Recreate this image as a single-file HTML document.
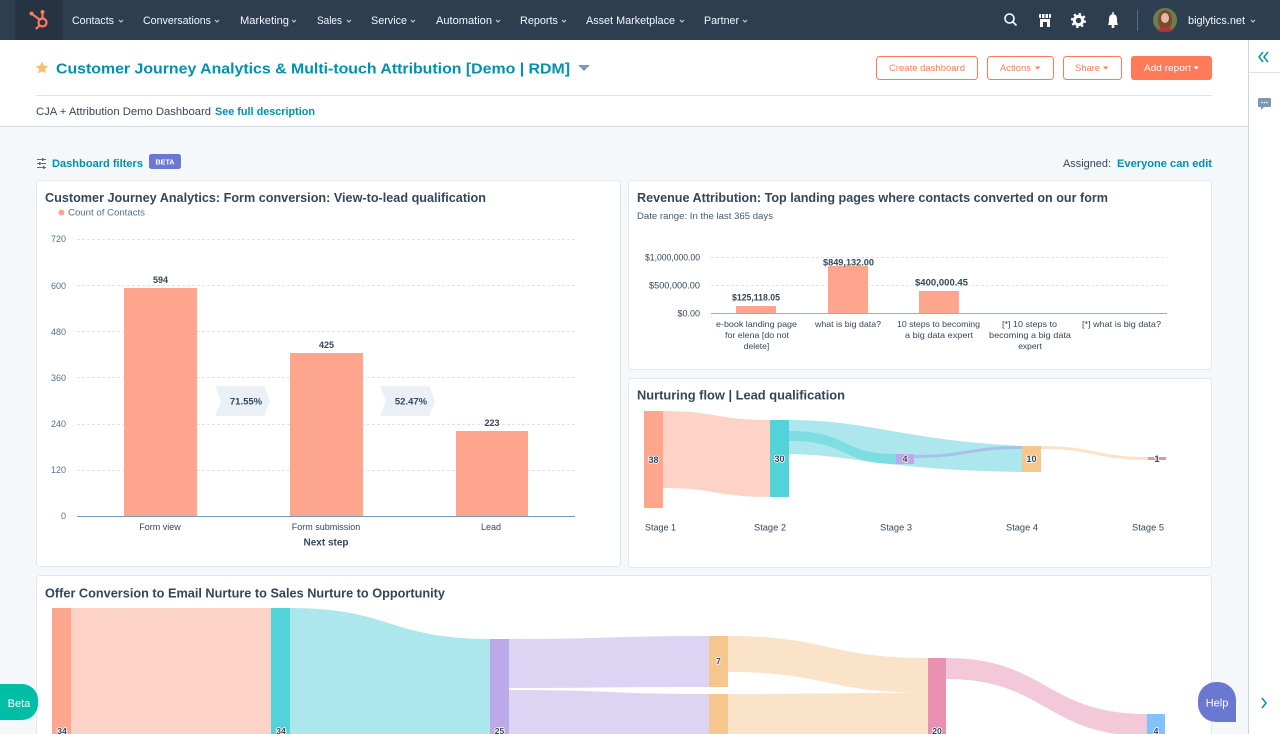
<!DOCTYPE html>
<html><head><meta charset="utf-8"><style>
html,body{margin:0;padding:0;background:#F5F8FA;}
svg{display:block;font-family:"Liberation Sans",sans-serif;}
</style></head><body>
<svg width="1280" height="734" viewBox="0 0 1280 734" xmlns="http://www.w3.org/2000/svg">
<!-- background -->
<rect x="0" y="0" width="1280" height="734" fill="#F5F8FA"/>
<!-- header white -->
<rect x="0" y="40" width="1248" height="86" fill="#FFFFFF"/>
<line x1="0" y1="126.5" x2="1248" y2="126.5" stroke="#CBD6E2" stroke-width="1"/>
<!-- right sidebar -->
<rect x="1248" y="40" width="32" height="694" fill="#FFFFFF"/>
<line x1="1248.5" y1="40" x2="1248.5" y2="734" stroke="#CBD6E2" stroke-width="1"/>
<line x1="1249" y1="72.5" x2="1280" y2="72.5" stroke="#DFE3EB" stroke-width="1"/>
<path d="M1263,52 L1259,57 L1263,62 M1268,52 L1264,57 L1268,62" fill="none" stroke="#0091AE" stroke-width="1.5"/>
<path d="M1259,98 h11 a1,1 0 0 1 1,1 v7 a1,1 0 0 1 -1,1 h-6 l-3,3 v-3 h-2 a1,1 0 0 1 -1,-1 v-7 a1,1 0 0 1 1,-1 z" fill="#7C98B6"/>
<circle cx="1262" cy="102.5" r="0.8" fill="#fff"/><circle cx="1264.5" cy="102.5" r="0.8" fill="#fff"/><circle cx="1267" cy="102.5" r="0.8" fill="#fff"/>
<path d="M1262,698 L1266,703 L1262,708" fill="none" stroke="#0091AE" stroke-width="1.5"/>

<!-- NAV -->
<rect x="0" y="0" width="1280" height="40" fill="#2D3E50"/>
<rect x="15" y="0" width="48" height="40" fill="#253342"/>
<g stroke="#FF7A59" stroke-width="2.2" fill="none" stroke-linecap="round">
<circle cx="42.5" cy="22.5" r="4"/>
<line x1="42.5" y1="18.5" x2="42.5" y2="13"/>
<line x1="39.5" y1="19.5" x2="32" y2="14"/>
<line x1="39.5" y1="25.5" x2="36.5" y2="28.5"/>
</g>
<circle cx="42.5" cy="12" r="2" fill="#FF7A59"/>
<circle cx="31.5" cy="13.5" r="2" fill="#FF7A59"/>
<g fill="#F5F8FA" font-size="11">
<text x="72" y="24" textLength="42" lengthAdjust="spacingAndGlyphs">Contacts</text>
<text x="143" y="24" textLength="68" lengthAdjust="spacingAndGlyphs">Conversations</text>
<text x="240" y="24" textLength="49" lengthAdjust="spacingAndGlyphs">Marketing</text>
<text x="317" y="24" textLength="25" lengthAdjust="spacingAndGlyphs">Sales</text>
<text x="371" y="24" textLength="36" lengthAdjust="spacingAndGlyphs">Service</text>
<text x="436" y="24" textLength="56" lengthAdjust="spacingAndGlyphs">Automation</text>
<text x="520" y="24" textLength="38" lengthAdjust="spacingAndGlyphs">Reports</text>
<text x="586" y="24" textLength="89" lengthAdjust="spacingAndGlyphs">Asset Marketplace</text>
<text x="704" y="24" textLength="35" lengthAdjust="spacingAndGlyphs">Partner</text>
<text x="1188" y="24" textLength="57" lengthAdjust="spacingAndGlyphs">biglytics.net</text>
</g>
<g fill="none" stroke="#CBD6E2" stroke-width="1">
<path d="M119,20 l2,2 l2,-2"/><path d="M215,20 l2,2 l2,-2"/><path d="M292,20 l2,2 l2,-2"/>
<path d="M347,20 l2,2 l2,-2"/><path d="M411,20 l2,2 l2,-2"/><path d="M496,20 l2,2 l2,-2"/>
<path d="M562,20 l2,2 l2,-2"/><path d="M680,20 l2,2 l2,-2"/><path d="M743,20 l2,2 l2,-2"/>
<path d="M1251,20 l2,2 l2,-2"/>
</g>
<!-- right icons -->
<g stroke="#FFFFFF" stroke-width="1.6" fill="none">
<circle cx="1009.5" cy="18.5" r="4.5"/>
<line x1="1013" y1="22" x2="1016.5" y2="25.5"/>
</g>
<g fill="#FFFFFF">
<rect x="1039" y="14" width="12" height="4" rx="1"/>
<rect x="1040" y="19" width="10" height="8"/>
<rect x="1043" y="22" width="4" height="5" fill="#2D3E50"/>
<rect x="1041" y="14" width="1" height="4" fill="#2D3E50"/><rect x="1044.5" y="14" width="1" height="4" fill="#2D3E50"/><rect x="1048" y="14" width="1" height="4" fill="#2D3E50"/>
</g>
<circle cx="1078.5" cy="20.5" r="4.2" fill="none" stroke="#FFFFFF" stroke-width="3" />
<circle cx="1078.5" cy="20.5" r="6.5" fill="none" stroke="#FFFFFF" stroke-width="2.2" stroke-dasharray="2.3 2.8"/>
<circle cx="1078.5" cy="20.5" r="2" fill="#2D3E50"/>
<path d="M1108,25 Q1109,23 1109,19 Q1109,14.5 1113,14 Q1117,14.5 1117,19 Q1117,23 1118,25 Z" fill="#FFFFFF"/>
<circle cx="1113" cy="26.5" r="1.5" fill="#FFFFFF"/>
<rect x="1112.3" y="12" width="1.4" height="2" fill="#FFFFFF"/>
<line x1="1137.5" y1="10" x2="1137.5" y2="31" stroke="#516F90" stroke-width="1"/>
<circle cx="1165" cy="20" r="12" fill="#6E7D4A"/>
<ellipse cx="1165" cy="20" rx="7" ry="10" fill="#7A4A32"/>
<ellipse cx="1165" cy="18" rx="4" ry="5" fill="#E8B9A0"/>
<path d="M1157,30 Q1165,24 1173,30 L1172,31 Q1165,33 1158,31 Z" fill="#B8323A"/>

<!-- Title row -->
<path d="M42,61.5 L43.9,65.6 L48.4,66.1 L45,69.1 L46,73.5 L42,71.2 L38,73.5 L39,69.1 L35.6,66.1 L40.1,65.6 Z" fill="#F5C26B"/>
<text x="56" y="73.5" font-size="15" font-weight="bold" fill="#0091AE" textLength="514" lengthAdjust="spacingAndGlyphs">Customer Journey Analytics &amp; Multi-touch Attribution [Demo | RDM]</text>
<path d="M578,65 L590,65 L584,71 Z" fill="#7C98B6"/>

<!-- Buttons -->
<rect x="876.5" y="56.5" width="101" height="23" rx="3" fill="#FFFFFF" stroke="#FF7A59"/>
<text x="927" y="71" font-size="9.5" fill="#FF7A59" text-anchor="middle" textLength="76" lengthAdjust="spacingAndGlyphs">Create dashboard</text>
<rect x="987.5" y="56.5" width="66" height="23" rx="3" fill="#FFFFFF" stroke="#FF7A59"/>
<text x="1000" y="71" font-size="9.5" fill="#FF7A59" textLength="31" lengthAdjust="spacingAndGlyphs">Actions</text>
<path d="M1035,66.5 h5.5 l-2.75,3 z" fill="#FF7A59"/>
<rect x="1063.5" y="56.5" width="58" height="23" rx="3" fill="#FFFFFF" stroke="#FF7A59"/>
<text x="1075" y="71" font-size="9.5" fill="#FF7A59" textLength="25" lengthAdjust="spacingAndGlyphs">Share</text>
<path d="M1103,66.5 h5.5 l-2.75,3 z" fill="#FF7A59"/>
<rect x="1131" y="56" width="81" height="24" rx="3" fill="#FF7A59"/>
<text x="1144" y="71" font-size="9.5" fill="#FFFFFF" textLength="47" lengthAdjust="spacingAndGlyphs">Add report</text>
<path d="M1193.5,66.5 h5.5 l-2.75,3 z" fill="#FFFFFF"/>

<line x1="36" y1="95.5" x2="1212" y2="95.5" stroke="#DFE3EB" stroke-width="1"/>
<text x="36" y="115" font-size="11" fill="#33475B" textLength="175" lengthAdjust="spacingAndGlyphs">CJA + Attribution Demo Dashboard</text>
<text x="215" y="115" font-size="11" font-weight="bold" fill="#0091AE" textLength="100" lengthAdjust="spacingAndGlyphs">See full description</text>

<!-- Filters row -->
<g stroke="#516F90" stroke-width="1">
<line x1="37" y1="159.5" x2="46" y2="159.5"/><line x1="37" y1="163.5" x2="46" y2="163.5"/><line x1="37" y1="167.5" x2="46" y2="167.5"/>
</g>
<g fill="#516F90"><rect x="42" y="158" width="1.5" height="3"/><rect x="39" y="162" width="1.5" height="3"/><rect x="43" y="166" width="1.5" height="3"/></g>
<text x="52" y="167" font-size="11" font-weight="bold" fill="#0091AE" textLength="91" lengthAdjust="spacingAndGlyphs">Dashboard filters</text>
<rect x="149" y="154" width="32" height="15" rx="2.5" fill="#6A78D1"/>
<text x="165" y="164.5" font-size="7.5" font-weight="bold" fill="#FFFFFF" text-anchor="middle" textLength="19" lengthAdjust="spacingAndGlyphs">BETA</text>
<text x="1063" y="167" font-size="11" fill="#33475B" textLength="48" lengthAdjust="spacingAndGlyphs">Assigned:</text>
<text x="1117" y="167" font-size="11" font-weight="bold" fill="#0091AE" textLength="95" lengthAdjust="spacingAndGlyphs">Everyone can edit</text>

<!-- CARDS -->
<rect x="36.5" y="180.5" width="584" height="386" rx="3" fill="#FFFFFF" stroke="#E3E8EF"/>
<rect x="628.5" y="180.5" width="583" height="189" rx="3" fill="#FFFFFF" stroke="#E3E8EF"/>
<rect x="628.5" y="378.5" width="583" height="189" rx="3" fill="#FFFFFF" stroke="#E3E8EF"/>
<rect x="36.5" y="575.5" width="1175" height="170" rx="3" fill="#FFFFFF" stroke="#E3E8EF"/>

<!-- LEFT CHART -->
<text x="45" y="202" font-size="13" font-weight="bold" fill="#33475B" textLength="441" lengthAdjust="spacingAndGlyphs">Customer Journey Analytics: Form conversion: View-to-lead qualification</text>
<circle cx="61.5" cy="212.5" r="3" fill="#FEA58E"/>
<text x="68" y="215.5" font-size="9" fill="#516F90" textLength="77" lengthAdjust="spacingAndGlyphs">Count of Contacts</text>
<g stroke="#DFE3EB" stroke-width="1" stroke-dasharray="3 2">
<line x1="77" y1="239.5" x2="575" y2="239.5"/>
<line x1="77" y1="285.5" x2="575" y2="285.5"/>
<line x1="77" y1="331.5" x2="575" y2="331.5"/>
<line x1="77" y1="377.5" x2="575" y2="377.5"/>
<line x1="77" y1="424.5" x2="575" y2="424.5"/>
<line x1="77" y1="470.5" x2="575" y2="470.5"/>
</g>
<g font-size="9" fill="#516F90" text-anchor="end">
<text x="66" y="242">720</text>
<text x="66" y="289">600</text>
<text x="66" y="335">480</text>
<text x="66" y="381">360</text>
<text x="66" y="427">240</text>
<text x="66" y="473">120</text>
<text x="66" y="519">0</text>
</g>
<rect x="124" y="288" width="73" height="228" fill="#FEA58E"/>
<rect x="290" y="353" width="73" height="163" fill="#FEA58E"/>
<rect x="456" y="431" width="72" height="85" fill="#FEA58E"/>
<line x1="77" y1="516.5" x2="575" y2="516.5" stroke="#7C98B6" stroke-width="1"/>
<g font-size="9" font-weight="bold" fill="#33475B" text-anchor="middle">
<text x="160.5" y="283">594</text>
<text x="326.5" y="348">425</text>
<text x="492" y="426">223</text>
</g>
<path d="M215,386 L264,386 L270,401 L264,416 L215,416 L221,401 Z" fill="#EAF0F6"/>
<path d="M380,386 L429,386 L435,401 L429,416 L380,416 L386,401 Z" fill="#EAF0F6"/>
<g font-size="9.5" font-weight="bold" fill="#33475B" text-anchor="middle">
<text x="246" y="404.5">71.55%</text>
<text x="411" y="404.5">52.47%</text>
</g>
<g font-size="9" fill="#33475B" text-anchor="middle">
<text x="160" y="530">Form view</text>
<text x="326" y="530">Form submission</text>
<text x="491" y="530">Lead</text>
</g>
<text x="326" y="545.5" font-size="10" font-weight="bold" fill="#33475B" text-anchor="middle">Next step</text>

<!-- REVENUE CHART -->
<text x="637" y="202" font-size="13" font-weight="bold" fill="#33475B" textLength="471" lengthAdjust="spacingAndGlyphs">Revenue Attribution: Top landing pages where contacts converted on our form</text>
<text x="637" y="219" font-size="9" fill="#425B76" textLength="136" lengthAdjust="spacingAndGlyphs">Date range: In the last 365 days</text>
<g stroke="#DFE3EB" stroke-width="1" stroke-dasharray="3 2">
<line x1="711" y1="257.5" x2="1167" y2="257.5"/>
<line x1="711" y1="285.5" x2="1167" y2="285.5"/>
</g>
<g font-size="9" fill="#33475B" text-anchor="end">
<text x="700" y="260.5" textLength="55" lengthAdjust="spacingAndGlyphs">$1,000,000.00</text>
<text x="700" y="288.5" textLength="51" lengthAdjust="spacingAndGlyphs">$500,000.00</text>
<text x="700" y="316.5">$0.00</text>
</g>
<rect x="736" y="306" width="40" height="7" fill="#FEA58E"/>
<rect x="828" y="266" width="40" height="47" fill="#FEA58E"/>
<rect x="919" y="291" width="40" height="22" fill="#FEA58E"/>
<line x1="711" y1="313.5" x2="1167" y2="313.5" stroke="#99AFC4" stroke-width="1"/>
<g font-size="9" font-weight="bold" fill="#33475B" text-anchor="middle">
<text x="756" y="300.5" textLength="48" lengthAdjust="spacingAndGlyphs">$125,118.05</text>
<text x="848.5" y="265.5" textLength="51" lengthAdjust="spacingAndGlyphs">$849,132.00</text>
<text x="941.5" y="285.5" textLength="53" lengthAdjust="spacingAndGlyphs">$400,000.45</text>
</g>
<g font-size="8.5" fill="#33475B" text-anchor="middle">
<text x="756.5" y="327" textLength="81" lengthAdjust="spacingAndGlyphs">e-book landing page</text>
<text x="757" y="338" textLength="64" lengthAdjust="spacingAndGlyphs">for elena [do not</text>
<text x="756.5" y="349">delete]</text>
<text x="848" y="327" textLength="66" lengthAdjust="spacingAndGlyphs">what is big data?</text>
<text x="938.5" y="327" textLength="83" lengthAdjust="spacingAndGlyphs">10 steps to becoming</text>
<text x="939" y="338" textLength="68" lengthAdjust="spacingAndGlyphs">a big data expert</text>
<text x="1029.5" y="327" textLength="55" lengthAdjust="spacingAndGlyphs">[*] 10 steps to</text>
<text x="1030" y="338" textLength="82" lengthAdjust="spacingAndGlyphs">becoming a big data</text>
<text x="1030" y="349">expert</text>
<text x="1121.5" y="327" textLength="79" lengthAdjust="spacingAndGlyphs">[*] what is big data?</text>
</g>

<!-- NURTURING FLOW -->
<text x="637" y="399.5" font-size="13" font-weight="bold" fill="#33475B" textLength="208" lengthAdjust="spacingAndGlyphs">Nurturing flow | Lead qualification</text>
<path d="M663,411 C716,411 716,420 770,420 L770,497 C716,497 716,488 663,488 Z" fill="#FDD3C7"/>
<path d="M789,420 C870,420 900,440 1022,446 L1022,472 C950,471 900,466 850,459 C820,455 800,454 789,454 Z" fill="#ABE7EC"/>
<path d="M789,431 C850,431 840,454 896,454 L896,464 C840,464 850,441 789,441 Z" fill="#6FD9DF" fill-opacity="0.75"/>
<path d="M914,455 C968,455 968,446 1022,446 L1022,449 C968,449 968,458 914,458 Z" fill="#A9A8E8" fill-opacity="0.6"/>
<path d="M1041,446 C1095,446 1095,457 1148,457 L1148,460 C1095,460 1095,449 1041,449 Z" fill="#FAE3C9"/>
<rect x="644" y="411" width="19" height="97" fill="#FEA58E"/>
<rect x="770" y="420" width="19" height="77" fill="#51D3D9"/>
<rect x="896" y="454" width="18" height="10" fill="#BDA9EA"/>
<rect x="1022" y="446" width="19" height="26" fill="#F5C78E"/>
<rect x="1148" y="457" width="18" height="3" fill="#EA90B1"/>
<g font-size="9" fill="#33475B" text-anchor="middle" font-weight="bold" stroke="#FFFFFF" stroke-width="1.5" paint-order="stroke">
<text x="653.5" y="463">38</text>
<text x="779.5" y="462">30</text>
<text x="905" y="462">4</text>
<text x="1031.5" y="462">10</text>
<text x="1157" y="462">1</text>
</g>
<g font-size="9.5" fill="#33475B" text-anchor="middle">
<text x="660.5" y="530.5" textLength="31" lengthAdjust="spacingAndGlyphs">Stage 1</text>
<text x="770" y="530.5" textLength="32" lengthAdjust="spacingAndGlyphs">Stage 2</text>
<text x="896" y="530.5" textLength="32" lengthAdjust="spacingAndGlyphs">Stage 3</text>
<text x="1022" y="530.5" textLength="32" lengthAdjust="spacingAndGlyphs">Stage 4</text>
<text x="1148" y="530.5" textLength="32" lengthAdjust="spacingAndGlyphs">Stage 5</text>
</g>

<!-- BOTTOM SANKEY -->
<text x="45" y="597.5" font-size="13" font-weight="bold" fill="#33475B" textLength="400" lengthAdjust="spacingAndGlyphs">Offer Conversion to Email Nurture to Sales Nurture to Opportunity</text>
<rect x="71" y="608" width="200" height="126" fill="#FDD3C7"/>
<path d="M290,608 C390,608 390,639 490,639 L490,734 L290,734 Z" fill="#ABE7EC"/>
<path d="M509,639 C609,639 609,636 709,636 L709,687 C609,687 609,688 509,688 Z" fill="#DDD4F4"/>
<path d="M509,690 C609,690 609,694 709,694 L709,734 L509,734 Z" fill="#DDD4F4"/>
<path d="M728,636 C828,636 828,658 928,658 L928,693 C828,693 828,672 728,672 Z" fill="#FAE3C9"/>
<path d="M728,694 C828,694 828,693 928,693 L928,734 L728,734 Z" fill="#FAE3C9"/>
<path d="M946,658 C1046,658 1046,714 1147,714 L1147,736 C1046,736 1046,679 946,679 Z" fill="#F3C8D9"/>
<rect x="52" y="608" width="19" height="126" fill="#FEA58E"/>
<rect x="271" y="608" width="19" height="126" fill="#51D3D9"/>
<rect x="490" y="639" width="19" height="95" fill="#BDA9EA"/>
<rect x="709" y="636" width="19" height="51" fill="#F5C78E"/>
<rect x="709" y="694" width="19" height="40" fill="#F5C78E"/>
<rect x="928" y="658" width="18" height="76" fill="#EA90B1"/>
<rect x="1147" y="714" width="18" height="20" fill="#81C1FD"/>
<g font-size="8.5" fill="#33475B" text-anchor="middle" font-weight="bold" stroke="#FFFFFF" stroke-width="1.5" paint-order="stroke">
<text x="62" y="734">34</text>
<text x="281" y="734">34</text>
<text x="499.5" y="734">25</text>
<text x="718.5" y="664">7</text>
<text x="937" y="734">20</text>
<text x="1156" y="734">4</text>
</g>

<!-- Beta tab -->
<path d="M0,684 L22,684 A16,16 0 0 1 38,700 L38,704 A16,16 0 0 1 22,720 L0,720 Z" fill="#00BDA5"/>
<text x="19" y="707" font-size="11" fill="#FFFFFF" text-anchor="middle">Beta</text>
<!-- Help button -->
<path d="M1198,700 A18,18 0 0 1 1216,682 L1218,682 A18,18 0 0 1 1236,700 L1236,722 L1216,722 A18,18 0 0 1 1198,704 Z" fill="#6A78D1"/>
<text x="1217" y="706.5" font-size="11" fill="#FFFFFF" text-anchor="middle">Help</text>
</svg>
</body></html>
